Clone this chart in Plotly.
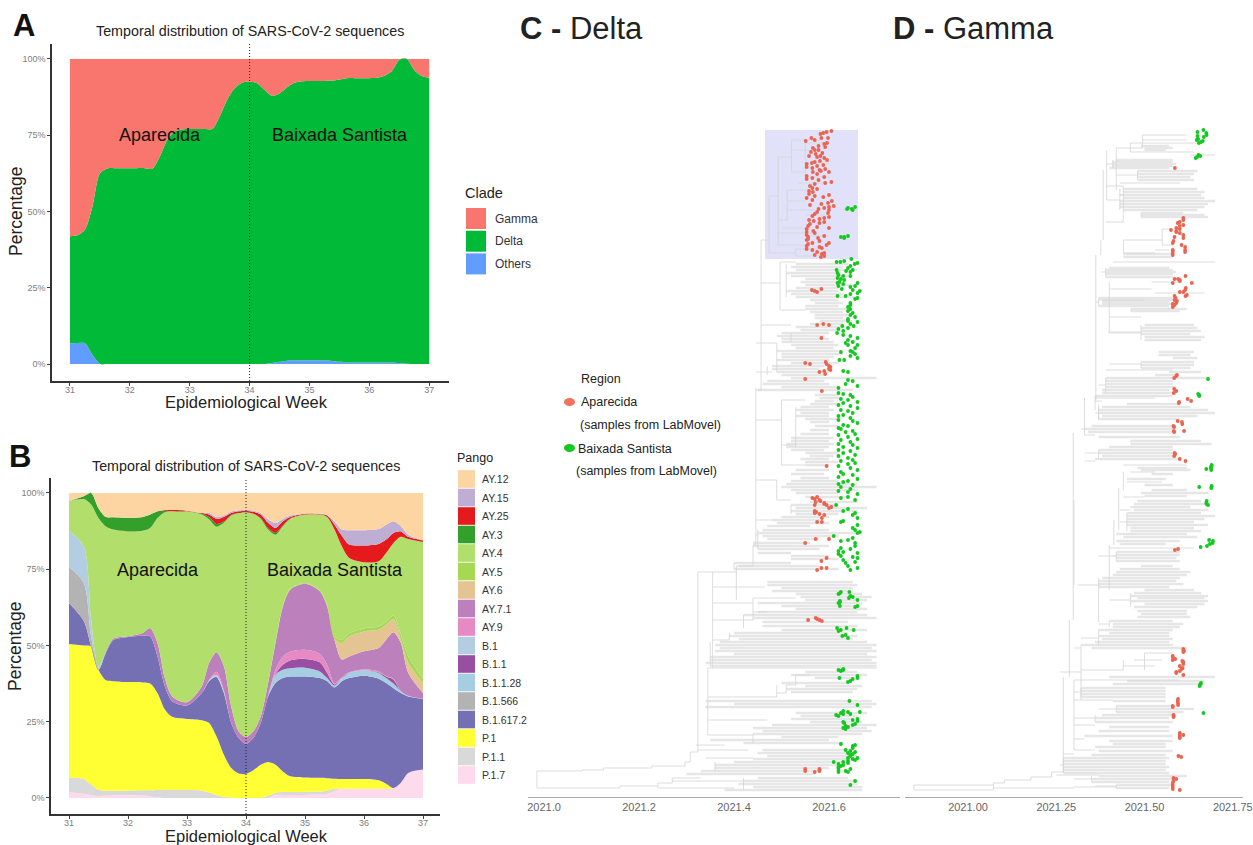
import plotly.graph_objects as go

# ---------- panel A ----------
a_weeks = [31+i*0.125 for i in range(49)]
a_others = [6.8,6.9,6.8,3,.1,0,0,0,0,0,0,0,0,0,0,0,0,0,0,0,0,0,0,0,0,0,0,.3,.7,1.1,1.2,1.2,1.2,1.2,1.2,1,.7,.5,.5,.5,.5,.5,.5,.5,.3,.1,0,0,0]
a_delta = [35.1,35.3,37.2,48.6,62.4,64.1,64.2,64.2,64.2,64.2,64.2,64,68,73.4,76.2,76.9,77,77,77,77,81.1,86.6,90.4,92.2,92.6,92,89.8,87.6,88,89.6,91,91.5,91.6,91.6,91.6,91.9,92.6,93.2,93.2,93.2,93.2,93.3,94,95.5,99.4,99.9,96.4,94.4,93.8]
a_gamma = [58.1,57.8,56,48.4,37.5,35.9,35.8,35.8,35.8,35.8,35.8,36,32,26.6,23.8,23.1,23,23,23,23,18.9,13.4,9.6,7.8,7.4,8,10.2,12.1,11.3,9.3,7.8,7.3,7.2,7.2,7.2,7.1,6.7,6.3,6.3,6.3,6.3,6.2,5.5,4,.3,0,3.6,5.6,6.2]
clade_names = ["Gamma","Delta","Others"]
clade_colors = ["#F8766D","#00BA38","#619CFF"]

# ---------- panel B ----------
b_weeks = [31,31.25,31.375,31.5,31.625,31.75,32,32.25,32.375,32.5,32.625,32.75,33,33.25,33.375,33.5,33.625,33.75,33.875,34,34.125,34.25,34.375,34.5,34.625,34.75,35,35.25,35.375,35.5,35.625,35.75,36,36.25,36.375,36.5,36.625,36.75,37]
p17 = [1.9,1.4,1,.6,.8,.9,.9,.9,.6,.2,0,0,0,0,0,0,0,0,0,0,0,0,.1,1,1,1,1,1.2,1.4,2.3,3,3,3,3,3,3.2,5,8.2,9.3]
p11 = [4.7,4.8,3.4,2.1,1.6,1.5,1.5,1.6,1.9,2.4,2.6,2.6,2.6,2.4,1.8,1,.4,.1,0,0,0,.1,.6,.8,1,1,1,.9,1,.7,0,0,0,0,0,0,0,0,0]
p1 = [43.9,43.8,45.3,39.3,36.2,35.9,35.6,35.4,35,31.8,26.4,24,23.3,23.1,22.8,19.2,13.8,9.7,8,7.9,9.1,10.8,11.1,9.1,6.7,5.1,4.7,4.5,4.1,3.3,3.2,3.2,3.2,2.8,1.7,.1,0,0,0]
b16172 = [13.4,8,0,0,8.9,13.4,14.8,15.3,15.5,12,7.6,5.1,4.4,8.9,13.7,19.5,20.2,14.8,11.7,9.9,10.6,13.7,21.5,26.8,30.6,32.7,33.1,32.7,31.8,30,32.1,33.1,33.9,33.3,33,32.7,29.4,25.1,23.2]
b1566 = [11.8,12.5,3.3,0,0,0,0,0,0,0,0,0,0,0,0,0,0,0,0,0,0,0,0,0,0,0,0,0,0,0,0,0,0,0,0,0,0,0,0]
b1128 = [0,0,0,0,0,0,0,0,0,0,0,0,0,0,.1,.3,.2,0,0,0,0,0,.2,2.7,2.7,2.7,2.9,2.2,1,.5,1,1.7,1.8,1.9,1.6,1.5,.6,.2,0]
b11 = [0,0,0,0,0,0,0,0,0,0,0,0,0,0,0,0,0,0,0,0,0,0,0,.3,1.7,2.6,2.9,3,1.7,.4,0,0,0,.2,.5,1.3,.1,0,0]
b1 = [12,12,5.5,1,0,0,0,0,0,0,0,0,0,0,.3,.3,.2,0,0,0,0,0,0,0,0,0,0,0,0,0,0,0,0,0,0,0,0,0,0]
ay9 = [0,0,0,0,0,0,0,0,0,0,0,0,0,0,0,1.1,.5,0,0,0,0,0,0,1.3,2.7,2.9,3,2.8,2.7,.3,.2,.2,.2,.3,.2,.2,0,0,0]
ay71 = [0,0,0,0,.5,.5,.2,.9,2.7,4.4,2.7,1.6,1.1,2.2,5.6,6.4,7.9,5.4,2.2,2.2,2.2,2.2,4.2,8.8,16.4,20.3,21.6,20.5,19.1,14.4,5.9,5.2,6,7.7,11.9,15.3,15.7,7.5,1.9]
ay6 = [0,0,0,0,0,0,0,0,0,0,0,0,0,0,0,0,0,0,0,0,0,0,0,0,0,0,0,0,0,.2,5.4,6.6,6.5,6,4.9,4.4,1.1,3.3,3.3]
ay5 = [0,0,0,0,0,0,0,0,0,0,0,0,0,0,0,0,0,0,0,0,0,0,0,.3,.3,.3,.3,.3,.3,.9,1,1,1,1,1,1.1,1.6,2.2,1.3]
ay4 = [9.6,15.5,37.7,48.8,41,35.8,34.4,33.5,32.8,41,54.4,60.7,62.6,56.3,47,41.1,47,62.6,71.5,73.7,71.3,64.7,50.3,35.2,26,22.9,22.4,24.8,29,35,30.7,24.7,21.7,21.4,22.5,23.8,32.1,38.4,44.9]
ay3 = [0,.9,3.8,3.2,3.1,4,4.4,4.5,4.4,2.2,.5,0,0,.3,.8,.9,.4,.2,0,0,0,.3,.5,.6,.2,.1,0,0,0,0,0,0,0,0,0,0,0,0,0]
ay25 = [0,0,0,0,0,0,0,0,0,0,.2,.4,.2,.2,.8,1.7,1.5,.6,.6,.5,.6,1.1,1.7,1.6,1.4,.5,.3,.2,.5,1.6,3.5,4.4,5.5,5.7,4.4,3.3,1.8,.7,.5]
ay15 = [0,0,0,0,0,0,0,0,0,0,0,0,0,0,.5,.6,.5,.5,.3,.3,.4,.5,1.1,1.7,.8,.5,0,.1,.2,1.1,2,4.7,5,4.9,4.9,3.8,1.7,.7,.1]
ay12 = [2.7,1.1,0,5,7.9,8,8.2,7.9,7.1,6,5.6,5.6,5.8,6.6,6.6,7.9,7.4,6.1,5.7,5.5,5.8,6.6,8.7,9.8,8.5,7.4,6.8,6.8,7.2,9.3,12,12.2,12.2,11.8,10.4,9.3,10.9,13.7,15.5]
pango_names = ["AY.12","AY.15","AY.25","AY.3","AY.4","AY.5","AY.6","AY.7.1","AY.9","B.1","B.1.1","B.1.1.28","B.1.566","B.1.617.2","P.1","P.1.1","P.1.7"]
pango_values = [ay12,ay15,ay25,ay3,ay4,ay5,ay6,ay71,ay9,b1,b11,b1128,b1566,b16172,p1,p11,p17]
pango_colors = ["#FDD5A2","#BEAED4","#E41A1C","#33A02C","#B2DE6C","#A6D854","#E5C494","#BC80BD","#E78AC3","#B3CDE3","#984EA3","#A6CEE3","#B3B3B3","#7570B3","#FFFF33","#D9D9D9","#FDDAEC"]
week_ticks = [31,32,33,34,35,36,37]
pct_ticks = [0,25,50,75,100]
pct_labels = ["0%","25%","50%","75%","100%"]

# ---------- panel C tree: (tip rank, branch start, branch end), years after 2021 ----------
c_tip_rows = [(264,.53,.64),(267,.52,.63),(270,.53,.66),(273,.51,.62),(276,.52,.64),(279,.55,.62),(282,.54,.62),(285,.55,.65),(288,.53,.62),(291,.51,.62),(294,.52,.63),(297,.53,.66),(300,.56,.62),(303,.57,.63),(306,.55,.62),(309,.55,.64),(312,.56,.63),(315,.57,.64),(318,.57,.63),(321,.58,.65),(324,.56,.63),(327,.53,.66),(330,.54,.62),(333,.50,.60),(336,.49,.59),(339,.50,.60),(342,.50,.61),
(345,.52,.62),(348,.53,.61),(351,.49,.62),(354,.50,.63),(357,.50,.61),(360,.49,.60),(363,.52,.62),(366,.48,.59),(369,.48,.58),(372,.49,.60),(375,.50,.59),(378,.52,.70),(381,.47,.59),(384,.46,.60),(387,.50,.62),(390,.45,.65),
(395,.57,.62),(398,.58,.63),(401,.57,.61),(404,.56,.62),(407,.54,.60),(410,.53,.61),(413,.54,.60),(416,.53,.60),(419,.55,.62),(422,.56,.60),(426,.57,.62),(430,.56,.60),(434,.54,.60),(438,.52,.61),(441,.52,.60),(444,.51,.61),(447,.51,.60),(450,.52,.59),(453,.55,.62),(456,.56,.61),(459,.54,.60),(462,.55,.62),(465,.55,.60),(470,.53,.60),(474,.52,.59),(478,.54,.60),(481,.52,.62),(484,.51,.66),(487,.50,.70),(490,.52,.66),(493,.53,.62),(497,.55,.64),(502,.56,.66),(505,.52,.62),(508,.53,.68),(511,.52,.66),(514,.53,.62),(517,.50,.60),(520,.48,.58),(523,.49,.60),(526,.47,.56),(530,.46,.60),(533,.45,.66),(536,.46,.62),(539,.47,.58),(543,.44,.56),(546,.44,.60),(549,.45,.58),(553,.45,.52),(556,.52,.60),(559,.52,.62),(563,.40,.52),(566,.41,.58),(569,.40,.62),
(582,.47,.65),(585,.47,.66),(588,.50,.65),(591,.48,.64),(594,.53,.67),(597,.54,.69),(600,.55,.68),(603,.45,.67),(606,.50,.65),(609,.53,.68),(612,.45,.66),(615,.42,.68),(618,.44,.70),(622,.46,.64),(626,.46,.66),(630,.50,.68),(633,.40,.64),(636,.39,.66),(639,.41,.65),(642,.37,.68),(645,.36,.70),(648,.37,.69),(651,.36,.70),(654,.40,.68),(657,.35,.70),(660,.35,.69),(663,.34,.70),(666,.35,.70),(672,.55,.66),(675,.52,.68),(678,.57,.65),(683,.50,.64),(686,.55,.67),(689,.51,.66),(692,.52,.65),(701,.34,.69),(704,.40,.70),(707,.34,.69),(713,.53,.68),(716,.54,.66),(719,.52,.65),(722,.56,.67),(725,.48,.70),(728,.44,.68),(731,.46,.69),(734,.44,.67),(737,.50,.62),(740,.35,.60),(743,.42,.63),(750,.46,.65),(753,.45,.64),(756,.47,.66),(759,.44,.65),(762,.40,.63),(765,.36,.62),(768,.36,.60),(771,.33,.58),(774,.30,.57),(778,.45,.64),(781,.42,.66),(784,.41,.66),(787,.44,.67),(790,.38,.67)]
c_inner_rows = [(771,-.015,.08),(770,.08,.125),(768,.125,.227),(766,.227,.297),(762,.297,.308),(752,.308,.324),(788,-.015,.16),(786,.16,.24),(783,.24,.27),(778,.27,.33),(781,.27,.42),(788,.24,.40),
(572,.324,.405),(566,.405,.44),(545,.44,.446),(390,.446,.457),(240,.457,.474),(196,.474,.493),(157,.493,.521),(220,.493,.512),(253,.474,.53),(140,.521,.58),(172,.521,.55),(150,.521,.56),(201,.512,.55),(190,.512,.56),(210,.512,.57),(228,.502,.55),(236,.55,.60),(245,.49,.55),(233,.49,.57),(183,.535,.59),(163,.55,.60),(177,.55,.60),(143,.55,.60),(215,.55,.60),(249,.53,.60),(256,.53,.58),
(283,.456,.497),(262,.497,.53),(310,.497,.55),(325,.457,.52),(343,.446,.49),(372,.446,.48),(420,.446,.50),(400,.50,.55),(445,.50,.53),(465,.50,.55),(480,.446,.49),(500,.49,.52),(520,.446,.48),(535,.446,.45),
(587,.356,.465),(603,.355,.44),(620,.355,.44),(668,.345,.70),(697,.345,.49),(693,.49,.51),(685,.51,.53),(675,.53,.56),(720,.345,.47),(745,.32,.38),(735,.345,.44),(598,.44,.53),(612,.44,.47),(640,.355,.39),(750,.324,.43),(758,.34,.44)]
c_links = [(-.015,771,788),(.08,770,771),(.125,768,770),(.227,766,768),(.297,762,766),(.308,752,762),(.324,572,752),(.16,786,788),(.24,783,788),(.27,778,783),(.405,566,572),(.44,545,566),(.446,388,545),(.457,240,390),(.474,196,253),(.493,157,245),(.521,140,172),(.512,190,220),(.55,143,177),(.53,249,256),(.497,262,310),(.49,343,372),(.50,400,465),(.49,480,500),(.355,580,668),(.345,668,735),(.49,685,697),(.51,685,693),(.53,675,685),(.44,598,620),(.405,572,600),(.355,572,580),(.35,642,666),(.44,734,743),(.42,615,628),(.39,633,640),(.47,366,375),(.51,264,297),(.52,333,342),(.52,505,514),(.45,530,549),(.40,563,569),(.36,762,771),(.42,778,790),(.53,407,447)]
c_red = [(131,.605),(132,.595),(133,.588),(134,.582),(138,.598),(138,.584),(138,.563),(140,.570),(141,.551),(143,.596),(144,.590),(146,.578),(147,.592),(148,.566),(150,.570),(150,.578),(152,.562),(153,.586),(154,.572),(156,.582),(156,.558),(157,.575),(158,.590),(160,.596),(161,.581),(162,.570),(163,.564),(164,.553),(165,.588),(166,.575),(167,.553),(168,.565),(169,.592),(170,.580),(171,.583),(172,.600),(172,.566),(174,.575),(176,.553),(177,.590),(178,.565),(179,.553),(180,.578),(182,.605),(183,.592),(184,.570),(186,.560),(188,.565),(189,.575),(191,.558),(192,.566),(194,.558),(195,.600),(196,.570),(197,.588),(198,.553),(200,.565),(201,.606),(203,.598),(204,.584),(205,.560),(206,.610),(207,.600),(208,.590),(209,.578),(210,.600),(212,.575),(213,.598),(214,.570),(216,.565),(217,.600),(218,.590),(219,.580),(220,.558),(221,.568),(222,.590),(223,.580),(224,.560),(226,.556),(227,.575),(228,.600),(229,.553),(231,.567),(232,.553),(233,.570),(235,.553),(236,.590),(237,.556),(238,.577),(239,.556),(240,.553),(241,.580),(243,.600),(243,.565),(244,.556),(245,.595),(246,.553),(247,.580),(248,.585),(249,.553),(250,.565),(252,.575),(253,.590),(254,.585),(255,.570),(256,.590),(257,.583),
(290,.564),(291,.570),(292,.575),(289,.584),(324,.588),(325,.575),(325,.600),(338,.584),(363,.55),(364,.56),(362,.593),(364,.595),(366,.60),(367,.603),(369,.60),(370,.603),(371,.59),(372,.58),(374,.592),(379,.55),(391,.585),(466,.595),(498,.565),(497,.575),(499,.57),(500,.58),(501,.582),(502,.572),(503,.59),(505,.57),(504,.59),(505,.595),(507,.605),(508,.60),(511,.57),(512,.573),(513,.57),(514,.58),(515,.59),(518,.585),(522,.575),(522,.585),(539,.572),(539,.60),(543,.55),(558,.595),(561,.584),(568,.584),(568,.595),(570,.575),(620,.556),(618,.572),(619,.575),(620,.58),(621,.585),(769,.55),(771,.55),(772,.57),(769,.58),(770,.58),(771,.58)]
c_green = [(207,.655),(208,.640),(209,.648),(210,.650),(209,.638),(237,.625),(238,.632),(236,.640),(237,.632),(262,.616),(262,.624),(261,.632),(259,.647),(263,.66),(264,.654),(266,.645),(268,.640),(270,.616),(271,.636),(270,.65),(273,.618),(272,.645),(275,.62),(276,.63),(276,.645),(278,.618),(279,.625),(280,.632),(282,.622),(283,.618),(284,.63),(286,.62),(286,.655),(283,.66),(287,.645),(289,.627),(290,.65),(291,.665),(293,.66),(294,.645),(296,.618),(296,.635),(298,.66),(299,.655),(303,.645),(305,.645),(307,.640),(309,.645),(311,.640),(313,.650),(315,.645),(317,.655),(319,.640),(321,.640),(322,.660),(324,.645),(326,.652),(328,.640),(326,.628),(329,.620),(331,.630),(333,.617),(335,.63),(336,.645),(338,.66),(340,.64),(342,.65),(343,.635),(345,.64),(345,.66),(348,.655),(352,.625),(351,.645),(352,.65),(354,.655),(356,.645),(358,.66),(360,.622),(360,.632),(371,.63),(372,.64),(380,.64),(381,.65),(384,.635),(386,.66),(388,.62),
(393,.62),(394,.63),(395,.645),(397,.65),(399,.625),(400,.64),(402,.66),(403,.63),(405,.62),(406,.645),(408,.66),(410,.625),(411,.64),(413,.65),(415,.63),(416,.62),(418,.645),(420,.62),(421,.65),(423,.66),(425,.63),(426,.64),(428,.62),(429,.625),(431,.65),(432,.635),(434,.655),(435,.62),(437,.64),(439,.66),(440,.625),(442,.645),(444,.62),(445,.65),(447,.63),(448,.66),(450,.62),(451,.645),(453,.63),(455,.655),(456,.62),(458,.64),(460,.65),(461,.625),(463,.655),(464,.64),(466,.62),(468,.645),(470,.66),(472,.625),(474,.63),(475,.65),(477,.62),(479,.66),(481,.64),(482,.63),(484,.62),(485,.65),(487,.625),(489,.645),(491,.62),(492,.64),(494,.66),(497,.64),(498,.625),(500,.655),(505,.615),(509,.64),(511,.63),(513,.655),(515,.65),(518,.66),(521,.63),(522,.625),(525,.66),(528,.65),(530,.655),(532,.665),(533,.66),(536,.61),(538,.65),(540,.64),(541,.625),(543,.655),(546,.655),(548,.625),(549,.645),(551,.62),(552,.63),(553,.66),(554,.62),(556,.625),(557,.65),(558,.66),(560,.63),(562,.655),(563,.635),(566,.64),(568,.66),(570,.645),
(592,.625),(593,.623),(594,.62),(592,.643),(596,.645),(597,.65),(598,.642),(600,.66),(601,.623),(602,.623),(603,.62),(606,.623),(607,.655),(606,.66),(628,.617),(630,.625),(631,.62),(628,.637),(630,.652),(636,.628),(635,.635),(638,.64),(670,.62),(671,.625),(670,.63),(669,.63),(676,.66),(678,.66),(679,.65),(681,.645),(682,.64),(678,.622),(701,.643),(705,.66),(712,.665),(711,.63),(714,.63),(713,.625),(715,.615),(716,.62),(712,.64),(714,.645),(719,.66),(720,.65),(721,.66),(722,.63),(723,.632),(725,.65),(724,.655),(726,.635),(727,.64),(728,.63),(729,.635),(744,.625),(745,.655),(746,.65),(748,.65),(750,.635),(751,.645),(752,.655),(753,.64),(754,.65),(755,.645),(756,.645),(758,.64),(759,.65),(758,.66),(760,.655),(762,.61),(761,.64),(763,.64),(762,.63),(764,.62),(765,.63),(766,.625),(767,.62),(768,.62),(769,.645),(770,.62),(771,.635),(772,.62),(772,.64),(781,.655),(785,.645)]

# ---------- panel D tree ----------
d_tip_rows = [(146,.49,.57),(148,.50,.58),(150,.50,.56),(160,.42,.58),(162,.41,.58),(164,.41,.59),(166,.41,.58),(168,.40,.57),(171,.48,.65),(174,.48,.64),(177,.48,.63),(180,.48,.64),(189,.44,.65),(192,.44,.67),(195,.43,.66),(198,.44,.67),(201,.43,.70),(204,.43,.68),(207,.43,.67),(210,.44,.65),(213,.49,.61),(215,.49,.67),(217,.49,.68),(254,.44,.58),(257,.44,.58),(268,.40,.57),(270,.39,.58),(272,.39,.59),(274,.39,.58),(277,.39,.58),(298,.37,.58),(300,.38,.58),(302,.38,.57),(304,.38,.58),(306,.37,.57),(309,.46,.62),(311,.46,.60),(325,.50,.64),(328,.49,.65),(331,.49,.66),(334,.49,.63),(337,.50,.67),(340,.50,.66),
(352,.54,.64),(355,.54,.63),(358,.58,.65),(362,.49,.64),(365,.49,.64),(368,.49,.63),(372,.57,.66),(375,.53,.59),(378,.39,.68),(381,.39,.58),(384,.39,.58),(387,.39,.59),(390,.38,.57),(393,.38,.58),(396,.36,.58),(404,.45,.60),(407,.38,.63),(410,.37,.68),(413,.37,.70),(416,.38,.65),(419,.37,.60),(426,.35,.58),(429,.33,.58),(432,.34,.59),(437,.37,.60),(441,.46,.66),(444,.46,.69),(447,.40,.58),(450,.37,.58),(453,.37,.58),(456,.38,.58),(459,.36,.60),(468,.48,.62),(470,.49,.63),(474,.52,.58),(479,.45,.56),(485,.50,.58),
(490,.52,.62),(493,.49,.68),(496,.50,.62),(501,.48,.66),(504,.47,.68),(507,.46,.63),(510,.47,.68),(513,.45,.66),(516,.45,.70),(519,.45,.67),(522,.45,.64),(525,.45,.68),(528,.46,.64),(531,.46,.66),(534,.42,.62),(537,.44,.65),(541,.42,.60),(544,.43,.56),(552,.42,.60),(555,.42,.60),(558,.42,.59),(561,.42,.60),(566,.49,.58),(569,.43,.60),(572,.42,.63),(575,.41,.62),(578,.38,.60),(581,.37,.59),(584,.37,.61),(587,.37,.57),(590,.50,.64),(593,.47,.66),(596,.46,.68),(598,.48,.67),(601,.46,.68),(604,.50,.67),(607,.47,.65),(611,.48,.62),(614,.49,.62),(617,.48,.63),(621,.40,.58),(624,.41,.61),(627,.41,.60),(630,.37,.58),(633,.40,.57),(636,.37,.57),(639,.38,.58),(642,.36,.57),(645,.32,.58),(648,.35,.62),
(677,.40,.70),(681,.45,.67),(684,.41,.66),(688,.32,.56),(691,.32,.56),(694,.32,.56),(697,.32,.56),(701,.41,.56),(706,.42,.58),(709,.42,.64),(712,.42,.61),(715,.38,.58),(718,.36,.57),(722,.36,.58),(727,.40,.57),(731,.37,.57),(736,.33,.58),(741,.40,.58),(744,.41,.56),(747,.36,.56),(751,.37,.58),(755,.35,.56),(758,.27,.57),(761,.27,.56),(764,.27,.56),(767,.27,.57),(770,.27,.56),(773,.27,.57),(776,.37,.62),(779,.35,.58),(782,.35,.57),(785,.42,.58),(788,.42,.57)]
d_inner_rows = [(785,-.153,.072),(780,.103,.178),(777,.178,.237),(790,-.153,.072),(783,.072,.103),(788,.072,.30),(787,.30,.42),(775,.25,.37),(772,.237,.27),
(140,.494,.62),(135,.494,.62),(152,.46,.64),(148,.42,.494),(155,.63,.70),(143,.46,.66),(183,.43,.60),(240,.44,.55),(229,.55,.58),(250,.53,.57),(245,.55,.58),(253,.44,.53),(262,.41,.70),(222,.39,.44),(186,.39,.44),(282,.52,.60),(289,.40,.52),(293,.53,.67),(300,.37,.50),(317,.40,.49),(333,.40,.49),(370,.39,.58),(398,.36,.53),(401,.36,.38),(435,.33,.36),(461,.33,.36),(465,.44,.62),(472,.46,.53),(482,.45,.55),(497,.44,.50),(510,.43,.46),(548,.40,.64),(556,.37,.42),(585,.31,.37),(648,.30,.32),(653,.50,.58),(660,.47,.55),(666,.44,.53),(670,.32,.44),(672,.26,.32),(680,.30,.60),(700,.30,.41),(725,.30,.36),(739,.30,.33),(750,.30,.36),(754,.30,.27),
(164,.393,.41),(175,.42,.48),(200,.393,.43),(272,.376,.39),(302,.362,.37),(332,.40,.49),(364,.40,.49),(385,.37,.39),(413,.36,.37),(429,.32,.33),(453,.33,.37),(522,.43,.45),(556,.41,.42),(583,.37,.37),(600,.40,.46),(624,.37,.40),(638,.32,.37),(692,.30,.32),(709,.37,.42),(718,.30,.36),(765,.26,.27),(779,.30,.35),(786,.36,.42)]
d_links = [(-.153,785,790),(.072,783,790),(.103,780,783),(.178,777,780),(.237,772,777),(.27,677,772),(.287,620,677),(.298,433,620),(.33,398,435),(.362,255,400),(.376,240,255),(.383,170,240),(.393,150,200),(.42,148,190),(.44,186,222),(.494,135,148),(.55,229,245),(.44,240,253),(.46,143,152),(.40,282,317),(.40,317,333),(.36,396,410),(.37,405,420),(.44,472,490),(.427,488,530),(.413,520,545),(.40,545,590),(.37,585,622),(.32,645,700),(.30,680,750),(.44,660,670),(.50,653,670),(.30,500,585),
(.41,160,168),(.48,171,180),(.43,189,210),(.49,213,217),(.39,268,277),(.37,298,306),(.49,325,340),(.49,362,368),(.39,378,393),(.37,407,419),(.33,426,432),(.37,450,459),(.45,513,531),(.42,552,561),(.37,578,587),(.46,593,607),(.40,621,627),(.37,630,645),(.32,688,697),(.42,706,712),(.36,715,722),(.27,758,773),(.35,776,782),(.42,785,788)]
d_red = [(168,.586),(218,.61),(220,.61),(222,.60),(223,.594),(225,.61),(226,.60),(228,.59),(229,.60),(230,.575),(231,.59),(232,.59),(233,.60),(235,.61),(237,.585),(238,.61),(241,.582),(243,.58),(245,.605),(247,.615),(250,.58),(251,.58),(252,.615),(250,.615),(253,.58),(255,.58),(276,.616),(279,.585),(279,.595),(280,.60),(281,.60),(283,.58),(283,.634),(288,.617),(290,.615),(292,.61),(292,.60),(295,.62),(296,.616),(296,.585),(298,.588),(300,.585),(303,.59),(305,.585),(301,.592),(304,.58),(307,.58),(375,.592),(376,.59),(378,.584),(389,.584),(391,.59),(393,.583),(399,.622),(401,.632),(402,.598),(403,.597),(421,.594),(422,.606),(424,.607),(426,.582),(427,.584),(431,.583),(432,.584),(431,.612),(453,.585),(454,.587),(456,.584),(459,.60),(461,.616),(550,.586),(549,.595),(649,.61),(650,.61),(651,.612),(652,.61),(656,.58),(657,.58),(659,.587),(660,.58),(661,.607),(662,.61),(664,.61),(666,.60),(668,.608),(669,.605),(671,.60),(672,.59),(673,.59),(675,.61),(699,.595),(701,.594),(703,.595),(705,.595),(706,.58),(707,.58),(715,.582),(716,.583),(717,.582),(733,.60),(734,.60),(735,.61),(736,.60),(737,.60),(738,.60),(756,.596),(757,.604),(778,.582),(779,.59),(781,.582),(783,.58),(785,.58),(787,.58),(789,.58),(790,.60)]
d_green = [(132,.65),(130,.667),(133,.675),(135,.676),(136,.65),(137,.668),(139,.652),(140,.648),(141,.665),(143,.654),(142,.66),(156,.658),(155,.653),(157,.649),(158,.645),(379,.68),(394,.652),(395,.655),(396,.655),(465,.69),(466,.69),(467,.689),(468,.688),(469,.675),(470,.689),(486,.69),(487,.69),(488,.689),(487,.655),(501,.676),(503,.675),(504,.676),(505,.68),(540,.683),(541,.694),(543,.693),(544,.685),(546,.677),(547,.659),(686,.656),(685,.657),(684,.659),(683,.66),(713,.667)]
c_year_ticks = [0,.2,.4,.6]
c_year_labels = ["2021.0","2021.2","2021.4","2021.6"]
d_year_ticks = [0,.25,.5,.75]
d_year_labels = ["2021.00","2021.25","2021.50","2021.75"]

# ---------- layout helpers (pixel positions) ----------
W, H = 1253, 845
FONT = "Liberation Sans"
def fx(p): return p/W
def fy(p): return 1-p/H
def note(text, x, y, size, color="#222222", anchor="center", angle=0):
    if anchor == "left":
        x -= 2
    return dict(text=text, x=fx(x), y=fy(y), xref="paper", yref="paper", showarrow=False,
                xanchor=anchor, yanchor="middle", textangle=angle,
                font=dict(family=FONT, size=size, color=color))
def box(x0, y0, x1, y1, color):
    return dict(type="rect", xref="paper", yref="paper", x0=fx(x0), x1=fx(x1), y0=fy(y0), y1=fy(y1),
                fillcolor=color, line=dict(width=0))
def tree_lines(rows, links):
    xs, ys = [], []
    for y, a, b in rows:
        xs += [a, b, None]; ys += [y, y, None]
    for x, a, b in links:
        xs += [x, x, None]; ys += [a, b, None]
    return xs, ys

fig = go.Figure()
for name, vals, col in zip(clade_names[::-1], [a_others, a_delta, a_gamma], clade_colors[::-1]):
    fig.add_trace(go.Scatter(x=a_weeks, y=vals, name=name, stackgroup="a", mode="lines",
                             line=dict(width=0, shape="spline", smoothing=.8), fillcolor=col,
                             xaxis="x", yaxis="y", showlegend=False))
for name, vals, col in zip(pango_names[::-1], pango_values[::-1], pango_colors[::-1]):
    fig.add_trace(go.Scatter(x=b_weeks, y=vals, name=name, stackgroup="b", mode="lines",
                             line=dict(width=0, shape="spline", smoothing=.8), fillcolor=col,
                             xaxis="x2", yaxis="y2", showlegend=False))
for axis_x, axis_y, tips, inner, links, red, green in [
        ("x3", "y3", c_tip_rows, c_inner_rows, c_links, c_red, c_green),
        ("x4", "y4", d_tip_rows, d_inner_rows, d_links, d_red, d_green)]:
    xs, ys = tree_lines(tips, [])
    fig.add_trace(go.Scatter(x=xs, y=ys, mode="lines", line=dict(color="#e6e6e6", width=2.6),
                             xaxis=axis_x, yaxis=axis_y, showlegend=False, hoverinfo="skip"))
    xs, ys = tree_lines(inner, links)
    fig.add_trace(go.Scatter(x=xs, y=ys, mode="lines", line=dict(color="#d4d4d4", width=.8),
                             xaxis=axis_x, yaxis=axis_y, showlegend=False, hoverinfo="skip"))
    fig.add_trace(go.Scatter(x=[p[1] for p in red], y=[p[0] for p in red], mode="markers", name="Aparecida",
                             marker=dict(color="#EA6450", size=3.8), xaxis=axis_x, yaxis=axis_y, showlegend=False))
    fig.add_trace(go.Scatter(x=[p[1] for p in green], y=[p[0] for p in green], mode="markers", name="Baixada Santista",
                             marker=dict(color="#12C91E", size=3.8), xaxis=axis_x, yaxis=axis_y, showlegend=False))

shapes = [
    dict(type="line", xref="x", yref="paper", x0=34, x1=34, y0=fy(381), y1=fy(44), line=dict(color="#222222", width=1, dash="1px,2px")),
    dict(type="line", xref="x2", yref="paper", x0=34, x1=34, y0=fy(814), y1=fy(478), line=dict(color="#222222", width=1, dash="1px,2px")),
    dict(type="rect", xref="x3", yref="paper", x0=(765-544)/475, x1=(858-544)/475, y0=fy(259), y1=fy(130),
         fillcolor="#E1E1F9", line=dict(width=0), layer="below"),
    dict(type="circle", xref="paper", yref="paper", x0=fx(564), x1=fx(575), y0=fy(406), y1=fy(398), fillcolor="#F4715A", line=dict(width=0)),
    dict(type="circle", xref="paper", yref="paper", x0=fx(564), x1=fx(575), y0=fy(452), y1=fy(444), fillcolor="#12C91E", line=dict(width=0)),
]
for i, col in enumerate(clade_colors):
    yc = 218.5 + i*22.7
    shapes.append(box(466, yc-10.5, 486, yc+10.5, col))
for i, col in enumerate(pango_colors):
    yc = 479 + i*18.5
    shapes.append(box(458, yc-8.8, 475, yc+8.8, col))

notes = [
    note("<b>A</b>", 24, 25, 31, "#111111"),
    note("<b>B</b>", 20, 456, 31, "#111111"),
    note("<b>C - </b>Delta", 520, 28, 31, "#222222", "left"),
    note("<b>D - </b>Gamma", 893, 28, 31, "#222222", "left"),
    note("Temporal distribution of SARS-CoV-2 sequences", 250, 31, 14.3),
    note("Temporal distribution of SARS-CoV-2 sequences", 246, 466, 14.3),
    note("Percentage", 16, 211, 17.5, angle=-90),
    note("Percentage", 15, 646, 17.5, angle=-90),
    note("Epidemiological Week", 246, 402, 16.5),
    note("Epidemiological Week", 246, 836, 16.5),
    note("Aparecida", 160, 135, 18, "#111111"),
    note("Baixada Santista", 340, 135, 18, "#111111"),
    note("Aparecida", 158, 570, 18, "#111111"),
    note("Baixada Santista", 335, 570, 18, "#111111"),
    note("Clade", 465, 193, 14.5, anchor="left"),
    note("Pango", 457, 458, 12.5, anchor="left"),
    note("Region", 581, 379, 12.5, anchor="left"),
    note("Aparecida", 581, 402, 12.5, anchor="left"),
    note("(samples from LabMovel)", 580, 425, 12.5, anchor="left"),
    note("Baixada Santista", 578, 449, 12.5, anchor="left"),
    note("(samples from LabMovel)", 576, 471, 12.5, anchor="left"),
]
for i, name in enumerate(clade_names):
    notes.append(note(name, 495, 218.5+i*22.7, 12, "#333333", "left"))
for i, name in enumerate(pango_names):
    notes.append(note(name, 482, 479+i*18.5, 10.5, "#333333", "left"))

week_axis = dict(tickmode="array", tickvals=week_ticks, ticks="outside", ticklen=3, tickcolor="#444444",
                 showgrid=False, zeroline=False, showline=True, linecolor="#333333", linewidth=1.5, ticklabelstandoff=-4,
                 tickfont=dict(family=FONT, size=9, color="#808080"))
pct_axis = dict(tickmode="array", tickvals=pct_ticks, ticktext=pct_labels, ticks="outside", ticklen=3, tickcolor="#444444",
                showgrid=False, zeroline=False, showline=True, linecolor="#333333", linewidth=1.5,
                tickfont=dict(family=FONT, size=9, color="#808080"))
year_axis = dict(tickmode="array", showgrid=False, zeroline=False, showline=True, linecolor="#aaaaaa", linewidth=1,
                 ticks="", tickfont=dict(family=FONT, size=11, color="#666666"))
hidden = dict(visible=False, showgrid=False, zeroline=False)

fig.update_layout(
    width=W, height=H, margin=dict(l=0, r=0, t=0, b=0, autoexpand=False), autosize=False,
    paper_bgcolor="white", plot_bgcolor="white", showlegend=False,
    font=dict(family=FONT), shapes=shapes, annotations=notes,
    xaxis=dict(domain=[fx(52), fx(449)], range=[30.70, 37.33], anchor="y", **week_axis),
    yaxis=dict(domain=[fy(381), fy(44)], range=[-5.57, 104.9], anchor="x", **pct_axis),
    xaxis2=dict(domain=[fx(51), fx(440)], range=[30.695, 37.288], anchor="y2", **week_axis),
    yaxis2=dict(domain=[fy(814), fy(478)], range=[-5.25, 104.9], anchor="x2", **pct_axis),
    xaxis3=dict(domain=[fx(528), fx(900)], range=[-.0337, .7495], anchor="y3", tickvals=c_year_ticks, ticktext=c_year_labels, **year_axis),
    yaxis3=dict(domain=[fy(797), fy(120)], range=[797, 120], anchor="x3", **hidden),
    xaxis4=dict(domain=[fx(905), fx(1243)], range=[-.1785, .779], anchor="y4", tickvals=d_year_ticks, ticktext=d_year_labels, **year_axis),
    yaxis4=dict(domain=[fy(797), fy(120)], range=[797, 120], anchor="x4", **hidden),
)
fig.write_html("out.html", config=dict(displayModeBar=False),
               post_script="document.body.style.margin='0';document.body.style.overflow='hidden';")
